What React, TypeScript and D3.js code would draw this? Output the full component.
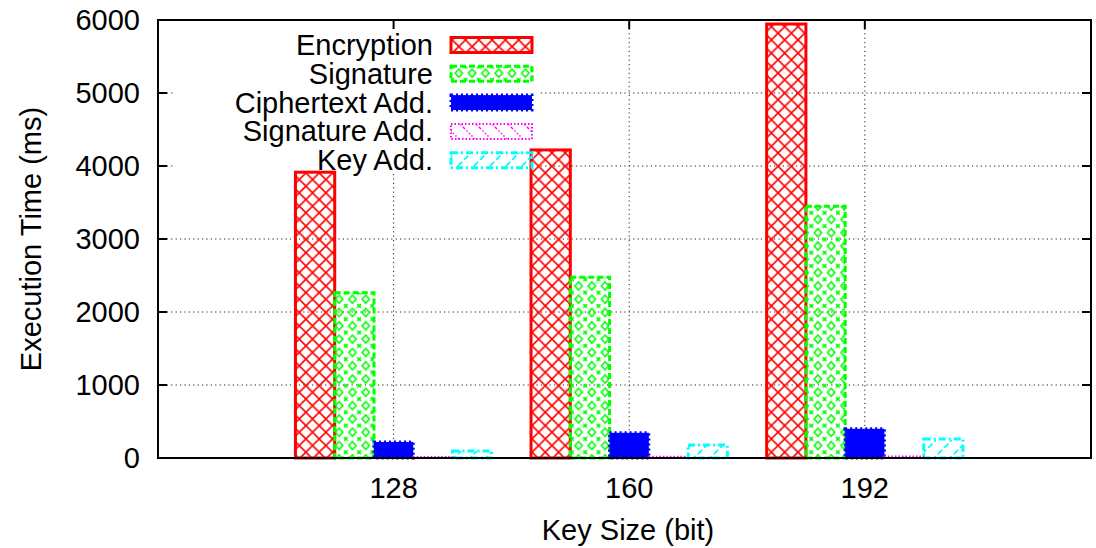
import { scaleLinear } from "d3";

const keySizes = ["128", "160", "192"];
const seriesNames = ["Encryption", "Signature", "Ciphertext Add.", "Signature Add.", "Key Add."];
const encryption = [3915, 4220, 5945];
const signature = [2265, 2475, 3450];
const ciphertextAdd = [220, 345, 400];
const signatureAdd = [15, 18, 20];
const keyAdd = [96, 178, 260];
const yTicks = [0, 1000, 2000, 3000, 4000, 5000, 6000];

const series = [encryption, signature, ciphertextAdd, signatureAdd, keyAdd];

const W = 1096;
const H = 548;
const m = { left: 158, right: 1091, top: 20, bottom: 458 };
const font = "'Liberation Sans', Arial, Helvetica, sans-serif";
const fs = 29;

// fill + border style per series (gnuplot-like patterns / dash types)
const styles = [
  { stroke: "#ff0000", fill: "url(#pat-red)", dash: undefined, sw: 3 },
  { stroke: "#00ff00", fill: "url(#pat-green)", dash: "6,3", sw: 3 },
  { stroke: "#0000ff", fill: "#0000ff", dash: "2,3", sw: 3 },
  { stroke: "#ff00ff", fill: "url(#pat-magenta)", dash: "1.5,2", sw: 2 },
  { stroke: "#00ffff", fill: "url(#pat-cyan)", dash: "7,3,2,3", sw: 3 },
];

export default function App() {
  const x = scaleLinear().domain([-1, 2.96]).range([m.left, m.right]);
  const y = scaleLinear().domain([0, 6000]).range([m.bottom, m.top]);
  const bw = 1 / 6;

  const legendRowY = (i: number) => 45 + i * 28.8;

  return (
    <div style={{ position: "fixed", left: 0, top: 0, background: "#fff" }}>
      <svg width={W} height={H} viewBox={`0 0 ${W} ${H}`} fontFamily={font}>
        <defs>
          <pattern id="pat-red" patternUnits="userSpaceOnUse" width={13.3} height={13.3}>
            <path d="M0,0L13.3,13.3M13.3,0L0,13.3" stroke="#ff0000" strokeWidth={1.6} />
          </pattern>
          <pattern id="pat-green" patternUnits="userSpaceOnUse" width={13.3} height={13.3}>
            <path d="M6.65,2.6L10.3,6.65L6.65,10.7L3,6.65Z" fill="none" stroke="#00ff00" strokeWidth={1.6} />
            <path d="M-1.8,-1.8L1.8,1.8M1.8,-1.8L-1.8,1.8M11.5,11.5L15.1,15.1M15.1,11.5L11.5,15.1M11.5,-1.8L15.1,1.8M15.1,-1.8L11.5,1.8M-1.8,11.5L1.8,15.1M1.8,11.5L-1.8,15.1" stroke="#00ff00" strokeWidth={1.6} />
          </pattern>
          <pattern id="pat-magenta" patternUnits="userSpaceOnUse" width={16} height={16}>
            <path d="M0,0L16,16M-8,8L8,24M8,-8L24,8" stroke="#ff00ff" strokeWidth={1.4} strokeDasharray="1.5,2" />
          </pattern>
          <pattern id="pat-cyan" patternUnits="userSpaceOnUse" width={16} height={16}>
            <path d="M0,16L16,0M-8,8L8,-8M8,24L24,8" stroke="#00ffff" strokeWidth={1.8} strokeDasharray="6,3,2,3" />
          </pattern>
        </defs>

        <rect width={W} height={H} fill="#fff" />

        {/* grid */}
        {yTicks.slice(1, -1).map((t) => (
          <line key={t} x1={m.left} x2={m.right} y1={y(t)} y2={y(t)} stroke="#222" strokeWidth={1} strokeDasharray="1.2,3.2" />
        ))}
        {keySizes.map((k, i) => (
          <line key={k} x1={x(i)} x2={x(i)} y1={m.top} y2={m.bottom} stroke="#222" strokeWidth={1} strokeDasharray="1.2,3.2" />
        ))}

        {/* opaque key box */}
        <rect x={174} y={28} width={366} height={144} fill="#fff" />

        {/* bars */}
        {series.map((vals, s) =>
          vals.map((v, i) => {
            const cx = i + (s - 2) * bw;
            const x0 = x(cx - bw / 2);
            const x1 = x(cx + bw / 2);
            const st = styles[s];
            return (
              <rect
                key={`${s}-${i}`}
                x={x0}
                y={y(v)}
                width={x1 - x0}
                height={y(0) - y(v)}
                fill={st.fill}
                stroke={st.stroke}
                strokeWidth={st.sw}
                strokeDasharray={st.dash}
              />
            );
          })
        )}

        {/* legend */}
        {seriesNames.map((name, s) => {
          const cy = legendRowY(s);
          const st = styles[s];
          return (
            <g key={name}>
              <text x={433} y={cy} textAnchor="end" dominantBaseline="central" fontSize={fs} fill="#000">
                {name}
              </text>
              <rect x={451} y={cy - 7.5} width={81} height={15} fill={st.fill} stroke={st.stroke} strokeWidth={st.sw} strokeDasharray={st.dash} />
            </g>
          );
        })}

        {/* border */}
        <rect x={m.left} y={m.top} width={m.right - m.left} height={m.bottom - m.top} fill="none" stroke="#000" strokeWidth={2} />

        {/* ticks */}
        {yTicks.map((t) => (
          <g key={t}>
            <line x1={m.left} x2={m.left + 9} y1={y(t)} y2={y(t)} stroke="#000" strokeWidth={2} />
            <line x1={m.right - 9} x2={m.right} y1={y(t)} y2={y(t)} stroke="#000" strokeWidth={2} />
            <text x={140} y={y(t)} textAnchor="end" dominantBaseline="central" fontSize={fs} fill="#000">
              {t}
            </text>
          </g>
        ))}
        {keySizes.map((k, i) => (
          <g key={k}>
            <line x1={x(i)} x2={x(i)} y1={m.top} y2={m.top + 9} stroke="#000" strokeWidth={2} />
            <text x={x(i)} y={498} textAnchor="middle" fontSize={fs} fill="#000">
              {k}
            </text>
          </g>
        ))}

        {/* axis titles */}
        <text x={628} y={540} textAnchor="middle" fontSize={fs} fill="#000">
          Key Size (bit)
        </text>
        <text
          transform={`translate(41,${(m.top + m.bottom) / 2}) rotate(-90)`}
          textAnchor="middle"
          fontSize={fs}
          fill="#000"
        >
          Execution Time (ms)
        </text>
      </svg>
    </div>
  );
}
